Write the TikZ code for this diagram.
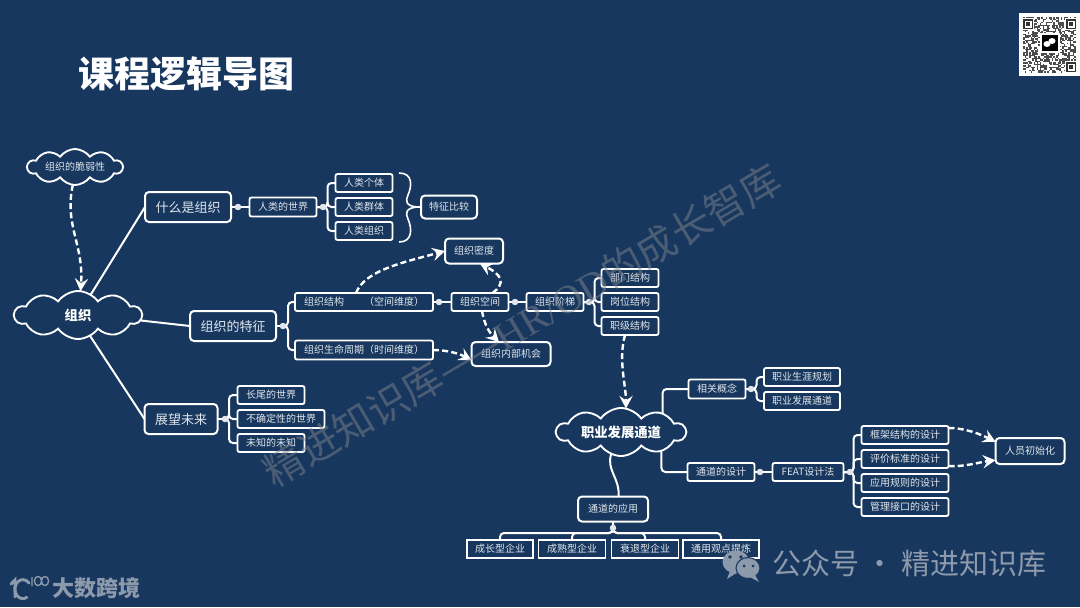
\documentclass[tikz,border=0pt]{standalone}
\usepackage{fontspec}
\setmainfont{Noto Sans CJK SC}
\newfontfamily\wmlatin{Liberation Serif}
\usepackage{xcolor}
\usetikzlibrary{
  arrows.meta,
  shapes.symbols
}
\definecolor{bgblue}{RGB}{23, 55, 94}
\definecolor{boxtext}{RGB}{225, 230, 236}
\definecolor{markgray}{RGB}{141, 154, 171}
\definecolor{wmgray}{RGB}{128, 132, 140}
\tikzset{
  % Boxes
  wh/.style 2 args   = {minimum width=#1*.75pt-1.5pt, minimum height=#2*.75pt-1.5pt},
  smallbox/.style    = {draw=white, line width=1.4pt, rounded corners=1.5pt, fill=bgblue,
                        text=boxtext, font=\fontsize{7.5}{9}\selectfont, text height=6.5pt, text depth=1pt,
                        inner sep=0pt, outer sep=0pt},
  midbox/.style      = {smallbox, line width=1.5pt, rounded corners=3pt},
  bigbox/.style      = {midbox, font=\fontsize{9.75}{12}\selectfont, text height=8.7pt, text depth=1.2pt},
  % Clouds
  cloudbox/.style    = {cloud, cloud ignores aspect, cloud puffs=10, cloud puff arc=110, draw=white, line width=1.4pt,
                        fill=bgblue, text=boxtext, font=\fontsize{7.5}{9}\selectfont, inner sep=0pt, outer sep=0pt},
  cloudbold/.style   = {cloudbox, text=white, font=\fontsize{10}{12}\selectfont\bfseries},
  % Lines
  linkline/.style    = {draw=white, line width=1.5pt, rounded corners=3pt},
  dashlink/.style    = {draw=white, line width=1.8pt, dash pattern=on 4.5pt off 2.4pt,
                        -{Stealth[length=9.5pt, width=10pt, inset=3.5pt]}},
  dotjoin/.style     = {circle, fill=boxtext, inner sep=0pt, minimum size=4.5pt, outer sep=0pt},
  % Marks
  wmtext/.style      = {text=wmgray, opacity=.5, rotate=30.5, font=\fontsize{30}{36}\selectfont},
  marktext/.style    = {text=markgray, inner sep=0pt}
}
\begin{document}
\begin{tikzpicture}[x=.75pt, y=-.75pt]
  \useasboundingbox (0,0) rectangle (1080,607);
  \fill[bgblue] (0,0) rectangle (1080,607);
  % Title
  \node[text=white, inner sep=0pt, font=\fontsize{27}{32}\selectfont\bfseries] (titlelab) at (186,74) {课程逻辑导图};
  % Left part
  \node[cloudbox, wh={97}{38}] (weakcloud) at (75,167) {组织的脆弱性};
  \node[cloudbold, wh={129}{50}] (orgcloud) at (78,315) {组织};
  \node[bigbox, wh={88}{32}] (whatbox) at (188,207) {什么是组织};
  \node[bigbox, wh={88}{32}] (featbox) at (233,326) {组织的特征};
  \node[bigbox, wh={75}{32}] (futurebox) at (181,419) {展望未来};
  % Human world
  \node[smallbox, wh={69}{21}] (worldbox) at (283,207) {人类的世界};
  \node[smallbox, wh={59}{20}] (humanA) at (364,183) {人类个体};
  \node[smallbox, wh={59}{20}] (humanB) at (364,207) {人类群体};
  \node[smallbox, wh={59}{20}] (humanC) at (364,231) {人类组织};
  \node[midbox, wh={58}{25}] (comparebox) at (449,207) {特征比较};
  \coordinate (bracetip) at (417,207);
  % Organisation features
  \node[smallbox, wh={140}{20}] (structbox) at (364,302) {组织结构　　（空间维度）};
  \node[smallbox, wh={140}{21}] (lifebox) at (364,350) {组织生命周期（时间维度）};
  \node[smallbox, wh={59}{20}] (spacebox) at (480,302) {组织空间};
  \node[smallbox, wh={59}{20}] (ladderbox) at (555,302) {组织阶梯};
  \node[midbox, wh={60}{27}] (densitybox) at (474,251) {组织密度};
  \node[midbox, wh={81}{26}] (chancebox) at (511,354) {组织内部机会};
  \node[smallbox, wh={59}{20}] (deptbox) at (630,278) {部门结构};
  \node[smallbox, wh={59}{20}] (postbox) at (630,302) {岗位结构};
  \node[smallbox, wh={59}{20}] (rankbox) at (630,326) {职级结构};
  % Future
  \node[smallbox, wh={69}{20}] (futureA) at (271,395) {长尾的世界};
  \node[smallbox, wh={89}{20}] (futureB) at (281,419) {不确定性的世界};
  \node[smallbox, wh={69}{20}] (futureC) at (271,443) {未知的未知};
  % Career channel
  \node[cloudbold, wh={131}{50}] (careercloud) at (621,432) {职业发展通道};
  \node[smallbox, wh={59}{21}] (conceptbox) at (717,389) {相关概念};
  \node[smallbox, wh={78}{20}] (planbox) at (802,377) {职业生涯规划};
  \node[smallbox, wh={78}{20}] (pathbox) at (802,401) {职业发展通道};
  \node[smallbox, wh={69}{20}] (designbox) at (721,472) {通道的设计};
  \node[smallbox, wh={73}{20}] (featbtn) at (808,472) {FEAT设计法};
  \node[smallbox, wh={89}{20}] (designA) at (905,435) {框架结构的设计};
  \node[smallbox, wh={89}{20}] (designB) at (905,459) {评价标准的设计};
  \node[smallbox, wh={89}{20}] (designC) at (905,483) {应用规则的设计};
  \node[smallbox, wh={89}{20}] (designD) at (905,507) {管理接口的设计};
  \node[midbox, wh={71}{28}] (initbox) at (1030,451) {人员初始化};
  \node[midbox, wh={72}{27}] (usebox) at (613,509) {通道的应用};
  \node[smallbox, wh={68}{20}, rounded corners=0pt] (useA) at (500,549) {成长型企业};
  \node[smallbox, wh={69}{20}, rounded corners=0pt] (useB) at (572,549) {成熟型企业};
  \node[smallbox, wh={69}{20}, rounded corners=0pt] (useC) at (645,549) {衰退型企业};
  \node[smallbox, wh={78}{20}, rounded corners=0pt] (useD) at (721,549) {通用观点提炼};
  % Join dots
  \node[dotjoin] (whatdot) at (238,207) {};
  \node[dotjoin] (worlddot) at (323,207) {};
  \node[dotjoin] (featdot) at (283,326) {};
  \node[dotjoin] (structdot) at (439,302) {};
  \node[dotjoin] (spacedot) at (515,302) {};
  \node[dotjoin] (ladderdot) at (589,302) {};
  \node[dotjoin] (futuredot) at (225,419) {};
  \node[dotjoin] (conceptdot) at (751,389) {};
  \node[dotjoin] (designdot) at (760,472) {};
  \node[dotjoin] (featdotB) at (850,472) {};
  \node[dotjoin] (usedot) at (613,528) {};
  % Solid links
  \draw[linkline] (orgcloud.58) -- (whatbox.west);
  \draw[linkline] (orgcloud.-5) -- (featbox.west);
  \draw[linkline] (orgcloud.-60) -- (futurebox.west);
  \draw[linkline] (whatbox) -- (worldbox);
  \draw[linkline] (featbox.east) -- (featdot);
  \draw[linkline] (structbox) -- (spacebox);
  \draw[linkline] (spacebox) -- (ladderbox);
  \draw[linkline] (futurebox) -- (futuredot);
  \draw[linkline] (conceptbox) -- (conceptdot);
  \draw[linkline] (designbox) -- (featbtn);
  \foreach \kid in {humanA,humanB,humanC}
    \draw[linkline] (worldbox.east) -- ++(11,0) |- (\kid.west);
  \foreach \kid in {structbox,lifebox}
    \draw[linkline] (featdot.center) -- ++(5,0) |- (\kid.west);
  \foreach \kid in {deptbox,postbox,rankbox}
    \draw[linkline] (ladderbox.east) -- ++(11,0) |- (\kid.west);
  \foreach \kid in {futureA,futureB,futureC}
    \draw[linkline] (futuredot.center) -- ++(4,0) |- (\kid.west);
  \foreach \kid in {planbox,pathbox}
    \draw[linkline] (conceptbox.east) -- ++(11,0) |- (\kid.west);
  \foreach \kid in {designA,designB,designC,designD}
    \draw[linkline] (featbtn.east) -- ++(10,0) |- (\kid.west);
  \draw[linkline] (careercloud.24) |- (conceptbox.west);
  \draw[linkline] (careercloud.-25) |- (designbox.west);
  \draw[linkline, rounded corners=0pt] (careercloud.-114) .. controls (606,470) and (620,478) .. (usebox.66);
  \draw[linkline] (usebox) -- (usedot);
  \foreach \kid in {useA,useB,useC,useD}
    \draw[linkline] (usedot.center) |- ++(0,5) -| (\kid.north);
  % Brace
  \draw[draw=white, line width=1.2pt, line join=round]
    (399,173) .. controls (413,173) and (412,186) .. (408,195) .. controls (405,201) and (406,206) .. (bracetip)
    .. controls (406,208) and (405,213) .. (408,219) .. controls (412,228) and (413,242) .. (399,242);
  \draw[linkline, line width=1.2pt] (bracetip) -- (comparebox.west);
  % Dashed links
  \draw[dashlink] (weakcloud.-97) .. controls (64,225) and (84,245) .. (orgcloud.84);
  \draw[dashlink] (structbox.north) ++(-8,0) .. controls (365,270) and (405,262) .. (densitybox.west);
  \draw[dashlink] (spacebox.north east) ++(-16,0) .. controls (506,283) and (502,275) .. (densitybox.-65);
  \draw[dashlink] (spacebox.south) ++(2,0) .. controls (485,327) and (490,333) .. (chancebox.135);
  \draw[dashlink] (lifebox.east) .. controls (448,350) and (460,354) .. (chancebox.189);
  \draw[dashlink] (rankbox.south) ++(-5,0) .. controls (618,360) and (626,385) .. (careercloud.78);
  \draw[dashlink] (designA.north east) ++(0,2) .. controls (965,428) and (980,434) .. (initbox.165);
  \draw[dashlink] (designB.south east) ++(0,-2) .. controls (965,467) and (980,462) .. (initbox.195);
  % Join dots on top
  \foreach \jn in {whatdot,worlddot,featdot,structdot,spacedot,ladderdot,futuredot,conceptdot,designdot,featdotB,usedot}
    \fill[boxtext] (\jn) circle (3.2);
  % Watermark
  \node[wmtext] (wmlab) at (522,325) {精进知识库——{\wmlatin HR/OD}的成长智库};
  % QR code
  \fill[white] (1019,13) rectangle (1080,76);
  \pgfmathsetseed{77}
  \foreach \i in {0,...,34} \foreach \j in {0,...,36} {
    \pgfmathparse{rnd>.5 ? 1 : 0}
    \ifnum\pgfmathresult=1
      \fill[black!70] ({1023+\i*1.5},{17+\j*1.5}) rectangle ++(1.5,1.5);
    \fi
  }
  \foreach \qx/\qy in {1023/19, 1066/19, 1066/62} {
    \fill[white] ({\qx-1},{\qy-1}) rectangle ++(12,12);
    \fill[black!80] (\qx,\qy) rectangle ++(10,10);
    \fill[white] ({\qx+1.5},{\qy+1.5}) rectangle ++(7,7);
    \fill[black!80] ({\qx+3},{\qy+3}) rectangle ++(4,4);
  }
  \fill[white] (1040,33) rectangle (1060,53);
  \fill[black] (1042,35) rectangle (1058,51);
  \fill[white] (1047,44) ellipse (3.6 and 3);
  \fill[white] (1052,41) ellipse (3.6 and 3);
  % Bottom marks
  \fill[markgray] (736,562) ellipse (13.5 and 11.5);
  \fill[markgray] (730,571) -- (727,579) -- (738,572) -- cycle;
  \draw[bgblue, line width=.8pt, fill=markgray] (748,568) ellipse (12 and 10.5);
  \fill[markgray] (755,575) -- (759,582) -- (750,577) -- cycle;
  \fill[bgblue] (730,557) circle (1.8) (741,557) circle (1.8) (744,566) circle (1.5) (753,566) circle (1.5);
  \node[marktext, font=\fontsize{21.75}{26}\selectfont] (wechatlab) at (909,563) {公众号 · 精进知识库};
  \node[marktext, font=\fontsize{16.5}{20}\selectfont\bfseries] (kualab) at (96,588) {大数跨境};
  \draw[markgray, line width=2.2pt, line cap=round] (11,584) -- (15,580) -- (15,597);
  \draw[markgray, line width=2.2pt, line cap=round] (29,583) arc (-40:-300:8 and 9.5);
  \draw[markgray, line width=1pt] (32,577) -- (32,586) (38,581) ellipse (3.6 and 4.6) (45,581) ellipse (3.6 and 4.6);
\end{tikzpicture}
\end{document}
